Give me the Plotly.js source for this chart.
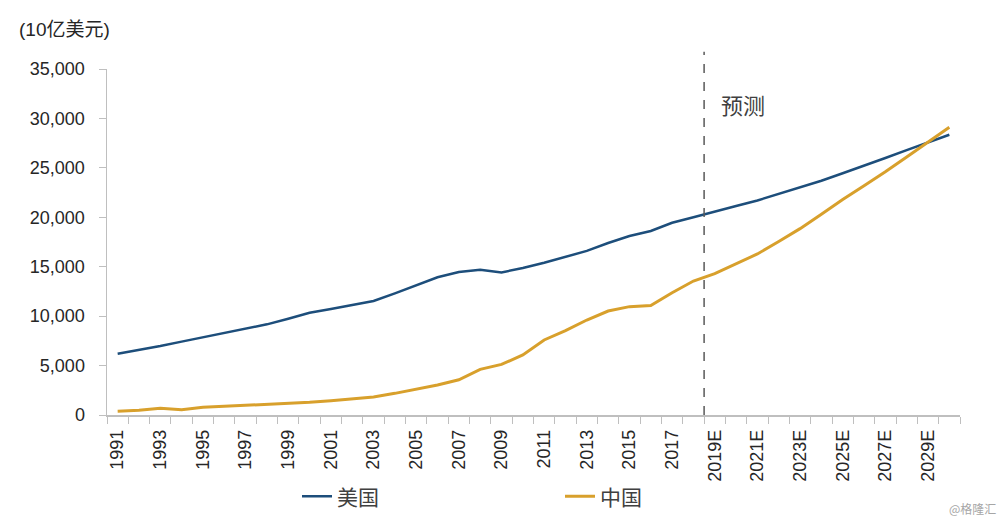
<!DOCTYPE html>
<html>
<head>
<meta charset="utf-8">
<script src="https://cdn.plot.ly/plotly-3.0.1.min.js"></script>
<style>html,body{margin:0;padding:0;background:#fff;}#chart{width:1000px;height:525px;}</style>
</head>
<body>
<div id="chart"></div>
<script>
const years = ["1991","1992","1993","1994","1995","1996","1997","1998","1999","2000",
  "2001","2002","2003","2004","2005","2006","2007","2008","2009","2010",
  "2011","2012","2013","2014","2015","2016","2017","2018","2019E","2020E",
  "2021E","2022E","2023E","2024E","2025E","2026E","2027E","2028E","2029E","2030E"];
const usGdp = [6200,6570,6980,7420,7860,8260,8770,9170,9740,10350,
  10720,11100,11530,12300,13150,13930,14470,14700,14420,14870,
  15400,16000,16600,17400,18100,18620,19450,20000,20600,21150,
  21700,22350,23000,23700,24450,25200,26000,26800,27600,28350];
const chinaGdp = [370,470,680,540,780,880,980,1080,1140,1280,
  1450,1620,1820,2190,2630,3030,3560,4620,5120,6070,
  7590,8530,9610,10520,10960,11070,12370,13550,14300,15270,
  16290,17550,18850,20300,21800,23200,24600,26100,27600,29100];
const yTicks = [0,5000,10000,15000,20000,25000,30000,35000];
const xTickText = years.map((y,i)=> i%2===0 ? y : "");
const seriesNames = ["美国","中国"];
const unitLabel = "(10亿美元)";
const forecastLabel = "预测";
const watermark = "@格隆汇";

const FONT = "Liberation Sans, Arial, Noto Sans CJK SC, sans-serif";
const traces = [
  {x: years, y: usGdp, name: seriesNames[0], type: "scatter", mode: "lines",
   line: {color: "#1d4e7b", width: 2.5}, legend: "legend", hoverinfo: "x+y"},
  {x: years, y: chinaGdp, name: seriesNames[1], type: "scatter", mode: "lines",
   line: {color: "#d8a02c", width: 3}, legend: "legend2", hoverinfo: "x+y"}
];
const layout = {
  width: 1000, height: 525,
  margin: {l: 107, r: 40, t: 69, b: 110},
  paper_bgcolor: "#fff", plot_bgcolor: "#fff",
  font: {family: FONT, size: 18, color: "#262626"},
  xaxis: {
    type: "category", range: [-0.5, 39.5],
    tickmode: "array", tickvals: years, ticktext: xTickText,
    tickson: "boundaries", ticks: "outside", ticklen: 7, tickcolor: "#bfbfbf",
    ticklabelstandoff: 6,
    tickangle: -90, showgrid: false, zeroline: false,
    showline: true, linecolor: "#bfbfbf", linewidth: 1.5,
    tickfont: {size: 18, color: "#262626", family: FONT}
  },
  yaxis: {
    range: [0, 35000], tickmode: "array", tickvals: yTicks, tickformat: ",",
    ticks: "outside", ticklen: 7, tickcolor: "#bfbfbf",
    ticklabelstandoff: 10,
    showgrid: false, zeroline: false,
    showline: true, linecolor: "#bfbfbf", linewidth: 1.5,
    tickfont: {size: 18, color: "#262626", family: FONT}
  },
  showlegend: true,
  legend: {orientation: "h", x: 0.297, y: 0.054, xref: "container", yref: "container",
    xanchor: "left", yanchor: "middle", bgcolor: "rgba(0,0,0,0)",
    font: {size: 21, color: "#404040", family: "Noto Sans CJK SC, sans-serif"}},
  legend2: {orientation: "h", x: 0.560, y: 0.054, xref: "container", yref: "container",
    xanchor: "left", yanchor: "middle", bgcolor: "rgba(0,0,0,0)",
    font: {size: 21, color: "#404040", family: "Noto Sans CJK SC, sans-serif"}},
  shapes: [{type: "line", xref: "x", yref: "paper", x0: 27.5, x1: 27.5, y0: 0, y1: 1.05,
    line: {color: "#595959", width: 1.5, dash: "dash"}}],
  annotations: [
    {text: unitLabel, xref: "paper", yref: "paper", x: -0.106, y: 1.113, xanchor: "left", yanchor: "middle",
     showarrow: false, font: {size: 19, color: "#262626", family: FONT}},
    {text: forecastLabel, xref: "x", yref: "paper", x: 28.2, y: 0.9, xanchor: "left", yanchor: "middle",
     showarrow: false, font: {size: 22, color: "#404040", family: "Noto Sans CJK SC, sans-serif"}},
    {text: watermark, xref: "paper", yref: "paper", x: 1.045, y: -0.27, xanchor: "right", yanchor: "middle",
     showarrow: false, font: {size: 12, color: "#a6a6a6", family: "Noto Sans CJK SC, sans-serif"}}
  ]
};
Plotly.newPlot("chart", traces, layout, {displayModeBar: false, staticPlot: true});
</script>
</body>
</html>
